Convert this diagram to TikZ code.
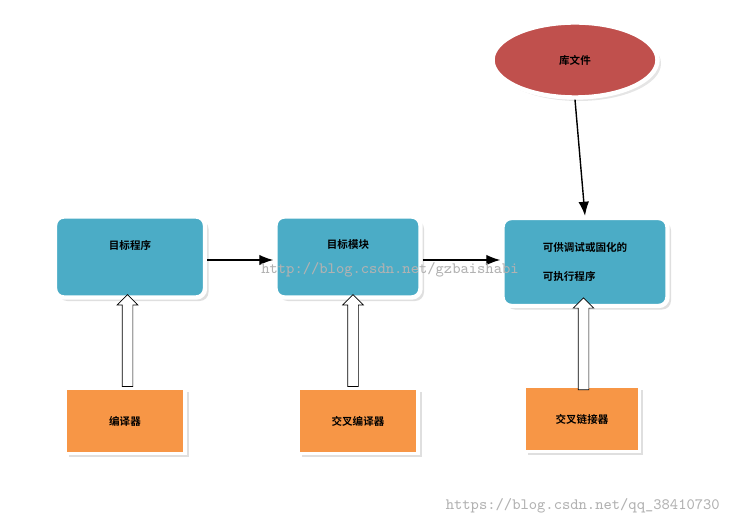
\documentclass[tikz,border=0pt]{standalone}
\usepackage{fontspec}
\newfontfamily\cjk{Noto Sans CJK SC}[BoldFont={* Bold}]
\usetikzlibrary{shapes.geometric,shapes.arrows,arrows.meta,shadows}
\definecolor{boxblue}{HTML}{4BACC6}
\definecolor{boxorange}{HTML}{F79646}
\definecolor{libred}{HTML}{C0504D}
\begin{document}
\begin{tikzpicture}[x=0.02cm,y=-0.02cm,
    font=\cjk\bfseries\fontsize{6}{9}\selectfont,
    blue box/.style={rectangle, fill=boxblue, draw=white, line width=2.5pt, rounded corners=5pt,
        drop shadow={shadow xshift=2pt, shadow yshift=-2pt, fill=black!25}},
    orange box/.style={rectangle, fill=boxorange, draw=white, line width=2pt,
        drop shadow={shadow xshift=2pt, shadow yshift=-2pt, fill=black!25}},
    hollow/.style={single arrow, draw=black, fill=white, thin, shape border rotate=90,
        minimum height=1.84cm, minimum width=0.4cm, single arrow head extend=0.1cm, inner sep=0.1cm},
    arrow/.style={-{Latex[length=8pt,width=6pt]}, thick}
]
    \useasboundingbox (0,0) rectangle (734,526);
    \node[ellipse, fill=libred, draw=white, line width=2.5pt, minimum width=3.3cm, minimum height=1.5cm,
        drop shadow={shadow xshift=2pt, shadow yshift=-2pt, fill=black!20}] (lib) at (575,60) {库文件};
    \node[blue box, minimum width=3cm, minimum height=1.62cm] (prog) at (130,257) {\raisebox{0.5cm}{目标程序}};
    \node[blue box, minimum width=2.9cm, minimum height=1.62cm] (module) at (348,257) {\raisebox{0.5cm}{目标模块}};
    \node[blue box, minimum width=3.3cm, minimum height=1.76cm, align=left] (exe) at (585,262)
        {可供调试或固化的\\[7pt]可执行程序};
    \node[orange box, minimum width=2.4cm, minimum height=1.3cm] (cc) at (125,421) {编译器};
    \node[orange box, minimum width=2.4cm, minimum height=1.3cm] (xcc) at (358,421) {交叉编译器};
    \node[orange box, minimum width=2.3cm, minimum height=1.3cm] (xld) at (582,419) {交叉链接器};

    % 实心箭头
    \draw[arrow] (prog.east |- 0,260) -- (module.west |- 0,260);
    \draw[arrow] (module.east |- 0,260) -- (exe.west |- 0,260);
    \draw[arrow] (lib.south) -- (exe.north);

    % 空心箭头
    \path (cc.north) -- node[hollow] {} (prog.south);
    \path (xcc.north) -- node[hollow] {} (module.south);
    \path (xld.north) -- node[hollow] {} (exe.south);

    \node[text=black!30, font=\ttfamily\fontsize{9}{10}\selectfont] (wm1) at (390,270) {http://blog.csdn.net/gzbaishabi};
    \node[text=black!30, font=\ttfamily\fontsize{9}{10}\selectfont, anchor=east] (wm2) at (726,506) {https://blog.csdn.net/qq\_38410730};
\end{tikzpicture}
\end{document}
